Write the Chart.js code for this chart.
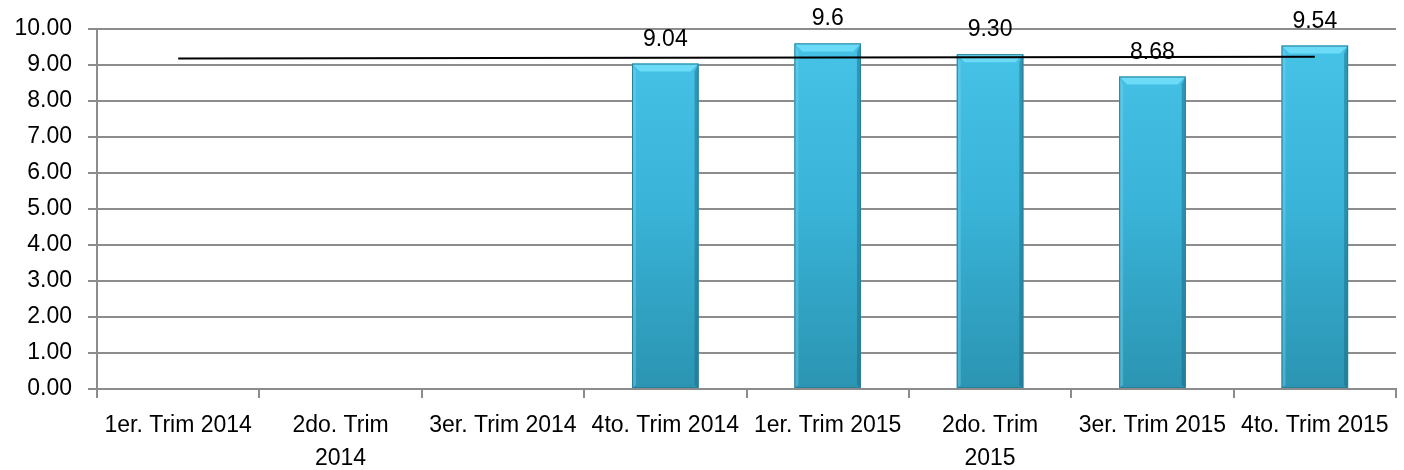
<!DOCTYPE html>
<html>
<head>
<meta charset="utf-8">
<script src="https://cdn.jsdelivr.net/npm/chart.js@4.4.1/dist/chart.umd.min.js"></script>
<style>
  html, body { margin: 0; padding: 0; background: #fff; }
  #wrap { width: 1404px; height: 470px; position: relative; }
</style>
</head>
<body>
<div id="wrap"><canvas id="myChart"></canvas></div>
<script>
// datos del grafico
const categorias = ['1er. Trim 2014', ['2do. Trim', '2014'], '3er. Trim 2014', '4to. Trim 2014',
                    '1er. Trim 2015', ['2do. Trim', '2015'], '3er. Trim 2015', '4to. Trim 2015'];
const valores = [null, null, null, 9.04, 9.6, 9.30, 8.68, 9.54];
const etiquetas = [null, null, null, '9.04', '9.6', '9.30', '8.68', '9.54'];
const tendencia = [9.18, null, null, null, null, null, null, 9.23];
const ticksY = ['0.00', '1.00', '2.00', '3.00', '4.00', '5.00', '6.00', '7.00', '8.00', '9.00', '10.00'];

const familia = "'Liberation Sans', Arial, sans-serif";
const fuenteX = { family: familia, size: 23, lineHeight: 1.4 };
const fuenteY = { family: familia, size: 23, lineHeight: 1.0 };

// etiquetas encima de las barras y bisel
const pluginBarras = {
    id: 'pluginBarras',
    afterDatasetDraw(chart, args) {
        if (args.index !== 1) return;
        const ctx = chart.ctx;
        const meta = chart.getDatasetMeta(1);
        meta.data.forEach(function(el, i) {
            if (valores[i] == null) return;
            const l = el.x - el.width / 2, r = el.x + el.width / 2;
            const t = el.y, b = el.base;
            const bv = 8, sv = 4;
            ctx.save();
            // cara superior clara
            ctx.fillStyle = 'rgba(110,220,248,0.95)';
            ctx.beginPath();
            ctx.moveTo(l, t); ctx.lineTo(r, t); ctx.lineTo(r - bv, t + bv); ctx.lineTo(l + bv, t + bv);
            ctx.closePath(); ctx.fill();
            // lado izquierdo
            ctx.fillStyle = 'rgba(120,215,240,0.4)';
            ctx.beginPath();
            ctx.moveTo(l, t); ctx.lineTo(l + sv, t + bv); ctx.lineTo(l + sv, b - 3); ctx.lineTo(l, b);
            ctx.closePath(); ctx.fill();
            // lado derecho
            ctx.fillStyle = 'rgba(25,100,125,0.45)';
            ctx.beginPath();
            ctx.moveTo(r, t); ctx.lineTo(r - sv, t + bv); ctx.lineTo(r - sv, b - 3); ctx.lineTo(r, b);
            ctx.closePath(); ctx.fill();
            ctx.strokeStyle = '#2a7f98';
            ctx.lineWidth = 1;
            ctx.strokeRect(l + 0.5, t + 0.5, el.width - 1, b - t - 1);
            ctx.restore();
        });
    },
    afterDatasetsDraw(chart) {
        const ctx = chart.ctx;
        const meta = chart.getDatasetMeta(1);
        ctx.save();
        ctx.font = '23px ' + familia;
        ctx.fillStyle = '#000';
        ctx.textAlign = 'center';
        ctx.textBaseline = 'alphabetic';
        meta.data.forEach(function(el, i) {
            if (etiquetas[i] == null) return;
            ctx.fillText(etiquetas[i], el.x, el.y - 18);
        });
        ctx.restore();
    }
};

let ctx = document.getElementById('myChart').getContext('2d');

const myChart = new Chart(ctx, {
    data: {
        labels: categorias,
        datasets: [{
            type: 'line',
            label: 'Tendencia',
            data: tendencia,
            borderColor: '#000',
            borderWidth: 2,
            pointRadius: 0,
            spanGaps: true,
            order: 0
        }, {
            type: 'bar',
            label: 'Valor',
            data: valores,
            backgroundColor: function(c) {
                const area = c.chart.chartArea;
                if (!area) return '#3bb6da';
                const g = c.chart.ctx.createLinearGradient(0, area.top, 0, area.bottom);
                g.addColorStop(0, '#47c4e8');
                g.addColorStop(0.5, '#39b3d7');
                g.addColorStop(1, '#2b94b2');
                return g;
            },
            borderWidth: 0,
            barPercentage: 0.41,
            categoryPercentage: 1,
            order: 1
        }]
    },
    options: {
        responsive: true,
        maintainAspectRatio: false,
        animation: false,
        layout: { padding: { left: 0, right: 8, top: 29, bottom: 0 } },
        plugins: {
            legend: { display: false },
            tooltip: { enabled: false }
        },
        scales: {
            x: {
                offset: true,
                afterFit: function(scale) { scale.height = 81; },
                grid: { display: true, drawOnChartArea: false, drawTicks: true, tickLength: 9, color: '#8c8c8c', lineWidth: 2, offset: true },
                border: { display: true, color: '#8c8c8c', width: 2 },
                ticks: { color: '#000', font: fuenteX, maxRotation: 0, minRotation: 0, autoSkip: false, padding: 12 }
            },
            y: {
                min: 0,
                max: 10,
                afterFit: function(scale) { scale.width = 97; },
                grid: { color: '#8c8c8c', lineWidth: 2, tickLength: 9 },
                border: { display: true, color: '#8c8c8c', width: 2 },
                ticks: {
                    stepSize: 1,
                    color: '#000',
                    font: fuenteY,
                    padding: 16,
                    callback: function(v, i) { return ticksY[i]; }
                }
            }
        }
    },
    plugins: [pluginBarras]
});
</script>
</body>
</html>
